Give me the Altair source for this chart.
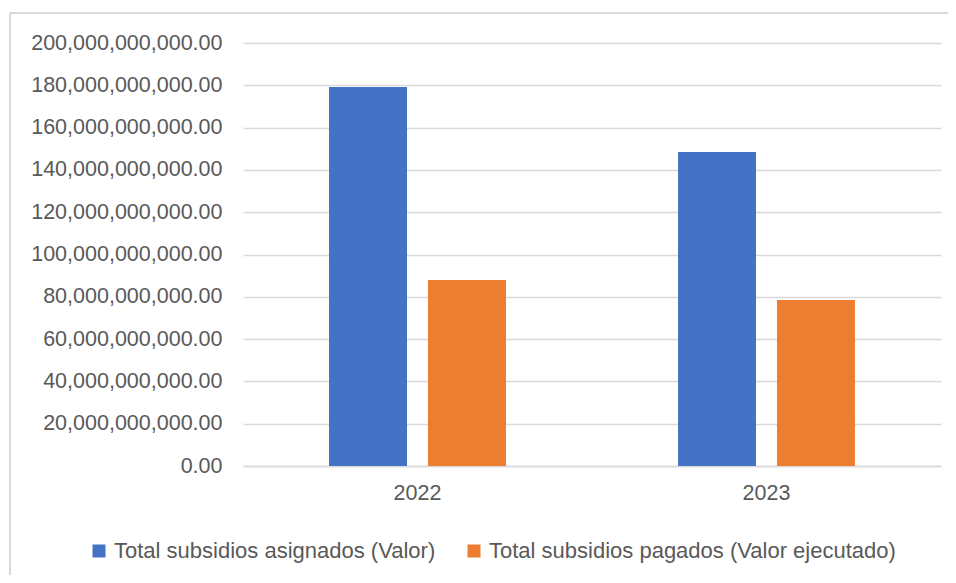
import altair as alt
import pandas as pd

years = ["2022", "2023"]
series = ["Total subsidios asignados (Valor)", "Total subsidios pagados (Valor ejecutado)"]
asignados = [179.2e9, 148.5e9]
pagados = [87.9e9, 78.5e9]
colors = ["#4472C4", "#ED7D31"]

rows = []
for i, y in enumerate(years):
    rows.append({"Año": y, "Serie": series[0], "Valor": asignados[i]})
    rows.append({"Año": y, "Serie": series[1], "Valor": pagados[i]})
df = pd.DataFrame(rows)

FONT = "Liberation Sans"
TXT = "#595959"
GRID = "#d9d9d9"
FS = 21.5

bars = alt.Chart(df).mark_bar().encode(
    x=alt.X("Año:N", sort=years,
            scale=alt.Scale(paddingInner=0.493, paddingOuter=0.2465),
            axis=alt.Axis(title=None, labelAngle=0, ticks=False, tickSize=0,
                          domain=True, domainColor=GRID, domainWidth=1.5,
                          labelPadding=16, labelFontSize=FS, labelFont=FONT,
                          labelColor=TXT, grid=False)),
    xOffset=alt.XOffset("Serie:N", sort=series,
                        scale=alt.Scale(paddingInner=0.212, paddingOuter=0)),
    y=alt.Y("Valor:Q",
            scale=alt.Scale(domain=[0, 200e9], nice=False),
            axis=alt.Axis(title=None, format=",.2f", values=[i * 20e9 for i in range(11)],
                          ticks=False, tickSize=0, domain=False, labelPadding=21,
                          labelFontSize=FS, labelFont=FONT, labelColor=TXT, labelLimit=400,
                          grid=True, gridColor=GRID, gridWidth=1.5)),
    color=alt.Color("Serie:N", sort=series,
                    scale=alt.Scale(domain=series, range=colors),
                    legend=alt.Legend(title=None, orient="none", legendX=-155, legendY=497,
                                      direction="horizontal", columns=2, columnPadding=27,
                                      symbolType="square", symbolSize=169, symbolStrokeWidth=0,
                                      labelFontSize=22, labelFont=FONT, labelColor=TXT,
                                      labelOffset=4, labelLimit=600)),
)

frame_left = alt.Chart(df).mark_rule(color=GRID, strokeWidth=1.5).encode(
    x=alt.value(-233), y=alt.value(-30), y2=alt.value(540))
frame_top = alt.Chart(df).mark_rule(color=GRID, strokeWidth=1.5).encode(
    x=alt.value(-233), x2=alt.value(710), y=alt.value(-30))

chart = alt.layer(frame_left, frame_top, bars).properties(
    width=698, height=423,
    padding={"left": 235, "top": 35, "right": 7, "bottom": 109},
    autosize=alt.AutoSizeParams(type="none"),
).configure_view(stroke=None)

chart.save("out.html", embed_options={"renderer": "svg", "actions": False})
